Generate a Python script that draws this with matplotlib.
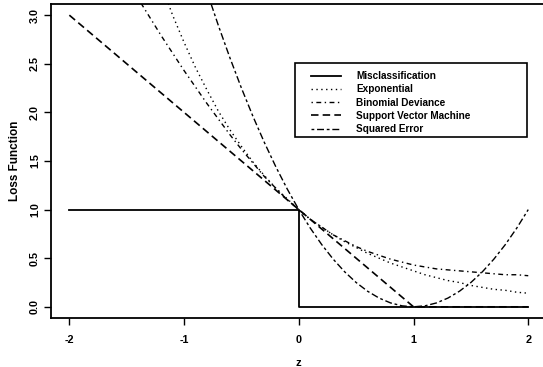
import matplotlib
matplotlib.use("Agg")
import matplotlib.pyplot as plt
from matplotlib.patches import Rectangle

plt.rcParams['font.family'] = ['Liberation Sans', 'DejaVu Sans']
plt.rcParams['font.weight'] = 'bold'
plt.rcParams['axes.labelweight'] = 'bold'

# grid of margins z
z = [-2.0, -1.9, -1.8, -1.7, -1.6, -1.5, -1.4, -1.3, -1.2, -1.1, -1.0,
     -0.9, -0.8, -0.7, -0.6, -0.5, -0.4, -0.3, -0.2, -0.1, 0.0,
     0.1, 0.2, 0.3, 0.4, 0.5, 0.6, 0.7, 0.8, 0.9, 1.0,
     1.1, 1.2, 1.3, 1.4, 1.5, 1.6, 1.7, 1.8, 1.9, 2.0]

misclass_z = [-2, 0, 0, 2]
misclass_loss = [1, 1, 0, 0]

exponential_loss = [7.39, 6.69, 6.05, 5.47, 4.95, 4.48, 4.06, 3.67, 3.32, 3.00, 2.72,
                    2.46, 2.23, 2.01, 1.82, 1.65, 1.49, 1.35, 1.22, 1.11, 1.00,
                    0.90, 0.82, 0.74, 0.67, 0.61, 0.55, 0.50, 0.45, 0.41, 0.37,
                    0.33, 0.30, 0.27, 0.25, 0.22, 0.20, 0.18, 0.17, 0.15, 0.14]

binomial_loss = [4.32, 4.13, 3.93, 3.74, 3.55, 3.36, 3.17, 2.98, 2.79, 2.61, 2.43,
                 2.26, 2.09, 1.93, 1.77, 1.62, 1.48, 1.34, 1.22, 1.10, 1.00,
                 0.90, 0.82, 0.74, 0.68, 0.62, 0.57, 0.53, 0.49, 0.46, 0.43,
                 0.41, 0.39, 0.38, 0.37, 0.36, 0.35, 0.34, 0.33, 0.33, 0.32]

svm_z = [-2, 1, 2]
svm_loss = [3, 0, 0]

squared_loss = [9.00, 8.41, 7.84, 7.29, 6.76, 6.25, 5.76, 5.29, 4.84, 4.41, 4.00,
                3.61, 3.24, 2.89, 2.56, 2.25, 1.96, 1.69, 1.44, 1.21, 1.00,
                0.81, 0.64, 0.49, 0.36, 0.25, 0.16, 0.09, 0.04, 0.01, 0.00,
                0.01, 0.04, 0.09, 0.16, 0.25, 0.36, 0.49, 0.64, 0.81, 1.00]

labels = ["Misclassification", "Exponential", "Binomial Deviance",
          "Support Vector Machine", "Squared Error"]
xticks = [-2, -1, 0, 1, 2]
yticks = [0.0, 0.5, 1.0, 1.5, 2.0, 2.5, 3.0]

W, H = 543, 367
fig = plt.figure(figsize=(W / 100, H / 100), dpi=100)
left, right, top, bottom = 51, 546.6, 4, 318
ax = fig.add_axes([left / W, 1 - bottom / H, (right - left) / W, (bottom - top) / H])
ax.set_xlim(-2.16, 2.16)
ax.set_ylim(-0.115, 3.115)

k = 'black'
ax.plot(misclass_z, misclass_loss, color=k, lw=1.3, ls='-', label=labels[0])
ax.plot(z, exponential_loss, color=k, lw=1.0, ls=(0, (1, 2.5)), label=labels[1])
ax.plot(z, binomial_loss, color=k, lw=1.0, ls=(0, (1, 2.5, 3.5, 2.5)), label=labels[2])
ax.plot(svm_z, svm_loss, color=k, lw=1.2, ls=(0, (4.5, 2.5)), label=labels[3])
ax.plot(z, squared_loss, color=k, lw=1.0, ls=(0, (2, 2, 5, 2)), label=labels[4])

for s in ax.spines.values():
    s.set_linewidth(1.3)

ax.set_xticks(xticks)
ax.set_xticklabels([str(t) for t in xticks])
ax.set_yticks(yticks)
ax.set_yticklabels([f"{t:.1f}" for t in yticks], rotation=90, va='center')
ax.tick_params(axis='both', direction='out', length=5, width=1.0, labelsize=7.8)
ax.tick_params(axis='x', pad=7)
ax.tick_params(axis='y', pad=3)

ax.set_xlabel("z", fontsize=8, labelpad=9.5)
ax.set_ylabel("Loss Function", fontsize=8.5, labelpad=6.5)

# legend box (axes fraction)
x0 = (295 - left) / (right - left)
x1 = (527 - left) / (right - left)
y0 = (bottom - 137) / (bottom - top)
y1 = (bottom - 63) / (bottom - top)
ax.add_patch(Rectangle((x0, y0), x1 - x0, y1 - y0, transform=ax.transAxes,
                       fill=False, edgecolor=k, lw=1.2, zorder=5))
leg = ax.legend(loc='upper left', bbox_to_anchor=((313 - left) / (right - left) - 0.004,
                                                 (bottom - 71) / (bottom - top)),
                frameon=False, fontsize=7.2, handlelength=3.0, handletextpad=1.5,
                labelspacing=0.33, borderpad=0.0, borderaxespad=0.0)

fig.savefig("out.png", dpi=100)
